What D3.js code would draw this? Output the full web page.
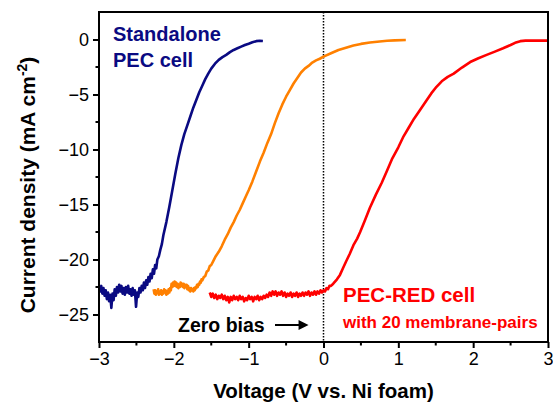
<!DOCTYPE html>
<html>
<head>
<meta charset="utf-8">
<script src="https://cdn.jsdelivr.net/npm/d3@7"></script>
<style>
  body { margin: 0; background: #fff; }
  svg { display: block; font-family: "Liberation Sans", Arial, sans-serif; }
</style>
</head>
<body>
<svg width="553" height="403"></svg>
<script>
// axis ticks
var xTicks = [-3, -2, -1, 0, 1, 2, 3];
var yTicks = [0, -5, -10, -15, -20, -25];
var xMinor = [-2.5, -1.5, -0.5, 0.5, 1.5, 2.5];
var yMinor = [-2.5, -7.5, -12.5, -17.5, -22.5];

// standalone PEC cell (navy), [V, mA cm-2]
var standalone = [
  [-3.00,-22.5],[-2.985,-22.9],[-2.97,-22.4],[-2.955,-23.1],[-2.94,-22.6],[-2.925,-23.3],[-2.91,-22.8],
  [-2.895,-23.6],[-2.88,-23.0],[-2.865,-23.8],[-2.85,-23.2],[-2.835,-24.4],[-2.82,-23.1],[-2.805,-23.7],
  [-2.79,-22.7],[-2.775,-23.3],[-2.76,-22.5],[-2.745,-23.0],[-2.73,-22.3],[-2.715,-22.9],[-2.70,-22.4],
  [-2.685,-23.1],[-2.67,-22.6],[-2.655,-23.2],[-2.64,-22.5],[-2.625,-23.0],[-2.61,-22.4],[-2.595,-23.1],
  [-2.58,-22.7],[-2.565,-23.3],[-2.55,-22.6],[-2.535,-23.2],[-2.52,-22.8],[-2.505,-24.3],[-2.49,-23.0],
  [-2.475,-23.4],[-2.46,-22.6],[-2.445,-23.0],[-2.43,-22.4],[-2.415,-22.8],[-2.40,-22.1],[-2.385,-22.6],
  [-2.37,-21.9],[-2.355,-22.3],[-2.34,-21.6],[-2.325,-22.0],[-2.31,-21.3],[-2.295,-21.7],[-2.28,-20.9],
  [-2.265,-21.3],[-2.25,-20.5],[-2.235,-20.8],[-2.22,-20.0],[-2.20,-19.7],[-2.18,-19.1],[-2.16,-18.6],
  [-2.14,-17.8],[-2.10,-16.6],[-2.06,-15.2],[-2.02,-13.7],[-1.98,-12.2],[-1.94,-10.8],[-1.90,-9.6],
  [-1.86,-8.6],[-1.82,-7.8],[-1.78,-7.0],[-1.74,-6.2],[-1.70,-5.5],[-1.66,-4.8],[-1.62,-4.2],
  [-1.58,-3.6],[-1.54,-3.1],[-1.50,-2.65],[-1.45,-2.2],[-1.40,-1.85],[-1.35,-1.6],[-1.30,-1.4],
  [-1.25,-1.15],[-1.20,-0.95],[-1.15,-0.8],[-1.10,-0.65],[-1.05,-0.5],[-1.00,-0.38],[-0.95,-0.25],
  [-0.90,-0.15],[-0.85,-0.12],[-0.81,-0.14]
];

// intermediate cell (orange)
var middle = [
  [-2.27,-22.7],[-2.26,-23.1],[-2.25,-22.8],[-2.24,-23.2],[-2.23,-22.9],[-2.22,-23.0],[-2.21,-22.7],
  [-2.20,-23.2],[-2.19,-22.9],[-2.18,-23.1],[-2.17,-22.8],[-2.16,-23.2],[-2.15,-22.9],[-2.14,-23.1],
  [-2.13,-22.7],[-2.12,-23.0],[-2.11,-22.8],[-2.10,-23.2],[-2.09,-22.9],[-2.08,-23.1],[-2.07,-22.7],
  [-2.06,-23.0],[-2.05,-22.6],[-2.04,-22.8],[-2.03,-22.2],[-2.02,-22.5],[-2.01,-22.1],[-2.00,-22.4],
  [-1.99,-22.0],[-1.98,-22.4],[-1.97,-22.1],[-1.96,-22.5],[-1.95,-22.2],[-1.94,-22.6],[-1.93,-22.3],
  [-1.92,-22.5],[-1.91,-22.1],[-1.90,-22.4],[-1.89,-22.2],[-1.88,-22.5],[-1.87,-22.2],[-1.86,-22.6],
  [-1.85,-22.3],[-1.84,-22.5],[-1.83,-22.3],[-1.82,-22.7],[-1.81,-22.4],[-1.80,-22.8],[-1.79,-22.6],
  [-1.78,-22.9],[-1.77,-22.6],[-1.76,-22.8],[-1.75,-22.7],[-1.74,-22.9],[-1.73,-22.6],[-1.72,-22.8],
  [-1.71,-22.5],[-1.70,-22.6],[-1.69,-22.3],[-1.68,-22.5],[-1.67,-22.2],[-1.66,-22.3],[-1.65,-22.0],
  [-1.64,-22.1],[-1.63,-21.8],[-1.62,-21.9],[-1.60,-21.6],[-1.58,-21.5],[-1.56,-21.1],[-1.54,-21.0],
  [-1.52,-20.6],[-1.50,-20.5],[-1.47,-20.1],[-1.44,-19.7],[-1.40,-19.3],[-1.36,-18.8],[-1.32,-18.2],
  [-1.28,-17.7],[-1.24,-17.1],[-1.20,-16.6],[-1.16,-16.0],[-1.12,-15.5],[-1.08,-14.9],[-1.04,-14.3],
  [-1.00,-13.7],[-0.95,-12.9],[-0.90,-12.0],[-0.85,-11.1],[-0.80,-10.3],[-0.75,-9.4],[-0.70,-8.6],
  [-0.65,-7.6],[-0.60,-6.7],[-0.55,-5.9],[-0.50,-5.2],[-0.45,-4.6],[-0.40,-4.0],[-0.35,-3.5],
  [-0.30,-3.0],[-0.25,-2.65],[-0.20,-2.4],[-0.15,-2.1],[-0.10,-1.9],[-0.05,-1.75],[0.00,-1.56],
  [0.10,-1.25],[0.20,-0.95],[0.30,-0.75],[0.40,-0.55],[0.50,-0.4],[0.62,-0.28],[0.75,-0.18],
  [0.85,-0.12],[0.95,-0.08],[1.10,-0.05]
];

// PEC-RED cell with 20 membrane-pairs (red)
var pecRed = [
  [-1.52,-23.0],[-1.50,-23.4],[-1.48,-23.1],[-1.46,-23.5],[-1.44,-23.2],[-1.42,-23.6],[-1.40,-23.3],
  [-1.38,-23.5],[-1.36,-23.2],[-1.34,-23.6],[-1.32,-23.3],[-1.30,-23.7],[-1.28,-23.4],[-1.26,-23.9],
  [-1.24,-23.4],[-1.22,-23.7],[-1.20,-23.3],[-1.18,-23.6],[-1.16,-23.4],[-1.14,-23.7],[-1.12,-23.3],
  [-1.10,-23.6],[-1.08,-23.4],[-1.06,-23.8],[-1.04,-23.5],[-1.02,-23.7],[-1.00,-23.3],[-0.98,-23.6],
  [-0.96,-23.4],[-0.94,-23.8],[-0.92,-23.4],[-0.90,-23.6],[-0.88,-23.3],[-0.86,-23.7],[-0.84,-23.4],
  [-0.82,-23.6],[-0.80,-23.3],[-0.78,-23.5],[-0.76,-23.2],[-0.74,-23.4],[-0.72,-23.0],[-0.70,-23.3],
  [-0.68,-22.9],[-0.66,-23.2],[-0.64,-22.9],[-0.62,-23.3],[-0.60,-23.0],[-0.58,-23.2],[-0.56,-22.9],
  [-0.54,-23.3],[-0.52,-23.0],[-0.50,-23.4],[-0.48,-23.1],[-0.46,-23.3],[-0.44,-23.0],[-0.42,-23.4],
  [-0.40,-23.1],[-0.38,-23.3],[-0.36,-23.0],[-0.34,-23.4],[-0.32,-23.1],[-0.30,-23.3],[-0.28,-23.0],
  [-0.26,-23.3],[-0.24,-23.0],[-0.22,-23.2],[-0.20,-22.9],[-0.18,-23.3],[-0.16,-23.0],[-0.14,-23.2],
  [-0.12,-22.9],[-0.10,-23.2],[-0.08,-22.9],[-0.06,-23.1],[-0.04,-22.8],[-0.02,-23.0],[0.00,-22.8],
  [0.02,-22.9],[0.04,-22.6],[0.06,-22.7],[0.08,-22.4],[0.10,-22.4],[0.13,-22.2],[0.18,-21.8],
  [0.22,-21.4],[0.26,-20.8],[0.30,-20.2],[0.35,-19.5],[0.40,-18.7],[0.45,-18.1],[0.49,-17.5],
  [0.55,-16.5],[0.62,-15.3],[0.70,-14.1],[0.78,-13.0],[0.85,-11.9],[0.92,-10.8],[1.00,-9.8],
  [1.07,-8.8],[1.14,-8.0],[1.21,-7.2],[1.29,-6.4],[1.36,-5.7],[1.44,-4.9],[1.51,-4.3],
  [1.58,-3.8],[1.66,-3.4],[1.74,-3.1],[1.85,-2.55],[1.96,-2.05],[2.07,-1.7],[2.18,-1.4],
  [2.29,-1.1],[2.40,-0.8],[2.50,-0.5],[2.56,-0.3],[2.63,-0.15],[2.70,-0.1],[2.80,-0.1],
  [2.90,-0.1],[3.00,-0.1]
];

var margin = { top: 12, right: 5, bottom: 61, left: 99 },
    width = 553 - margin.left - margin.right,
    height = 403 - margin.top - margin.bottom;

var svg = d3.select("svg");
var g = svg.append("g")
    .attr("transform", "translate(" + margin.left + "," + margin.top + ")");

var x = d3.scaleLinear().domain([-3, 3]).range([0, width]);
var y = d3.scaleLinear().domain([-27.5, 2.5]).range([height, 0]);

// zero bias dotted line
g.append("line")
    .attr("x1", x(0)).attr("x2", x(0))
    .attr("y1", 0).attr("y2", height)
    .attr("stroke", "#000")
    .attr("stroke-width", 1.5)
    .attr("stroke-dasharray", "1.5,1.5");

// curves
var line = d3.line()
    .x(function (d) { return x(d[0]); })
    .y(function (d) { return y(d[1]); });

[[standalone, "#0a0a82"], [middle, "#ff8000"], [pecRed, "#ff0000"]].forEach(function (s) {
    g.append("path")
        .datum(s[0])
        .attr("fill", "none")
        .attr("stroke", s[1])
        .attr("stroke-width", 2.6)
        .attr("stroke-linejoin", "round")
        .attr("d", line);
});

// axes
var xAxis = g.append("g")
    .attr("transform", "translate(0," + height + ")")
    .call(d3.axisBottom(x).tickValues(xTicks).tickSize(6).tickSizeOuter(0).tickPadding(4)
        .tickFormat(d3.format("d")));
var yAxis = g.append("g")
    .call(d3.axisLeft(y).tickValues(yTicks).tickSize(6).tickSizeOuter(0).tickPadding(4)
        .tickFormat(d3.format("d")));

[xAxis, yAxis].forEach(function (a) {
    a.select(".domain").remove();
    a.selectAll("line").attr("stroke-width", 2);
    a.selectAll("text").attr("font-size", 18).attr("fill", "#000")
        .attr("font-family", "'Liberation Sans', Arial, sans-serif");
});

// minor ticks
g.selectAll(".xminor").data(xMinor).enter().append("line")
    .attr("x1", function (d) { return x(d); }).attr("x2", function (d) { return x(d); })
    .attr("y1", height).attr("y2", height + 3.5)
    .attr("stroke", "#000").attr("stroke-width", 2);
g.selectAll(".yminor").data(yMinor).enter().append("line")
    .attr("y1", function (d) { return y(d); }).attr("y2", function (d) { return y(d); })
    .attr("x1", 0).attr("x2", -3.5)
    .attr("stroke", "#000").attr("stroke-width", 2);

// frame
g.append("rect")
    .attr("width", width).attr("height", height)
    .attr("fill", "none").attr("stroke", "#000").attr("stroke-width", 2);

// axis titles
svg.append("text")
    .attr("x", margin.left + width / 2).attr("y", 398)
    .attr("text-anchor", "middle")
    .attr("font-size", 20.5).attr("font-weight", "bold")
    .text("Voltage (V vs. Ni foam)");

var yt = svg.append("text")
    .attr("transform", "translate(35," + (margin.top + 173) + ") rotate(-90)")
    .attr("text-anchor", "middle")
    .attr("font-size", 21).attr("font-weight", "bold");
yt.append("tspan").text("Current density (mA cm");
yt.append("tspan").attr("font-size", 14).attr("dy", -8).text("-2");
yt.append("tspan").attr("dy", 8).text(")");

// annotations
var ann = svg.append("g").attr("font-weight", "bold");
ann.append("text").attr("x", 113).attr("y", 41).attr("font-size", 20)
    .attr("fill", "#0a0a82").text("Standalone");
ann.append("text").attr("x", 113).attr("y", 67).attr("font-size", 20)
    .attr("fill", "#0a0a82").text("PEC cell");
ann.append("text").attr("x", 178).attr("y", 332).attr("font-size", 19.5)
    .attr("fill", "#000").text("Zero bias");
ann.append("text").attr("x", 343).attr("y", 302).attr("font-size", 20.5)
    .attr("fill", "#ff0000").text("PEC-RED cell");
ann.append("text").attr("x", 343).attr("y", 328).attr("font-size", 17)
    .attr("fill", "#ff0000").text("with 20 membrane-pairs");

// arrow pointing at zero bias
var ay = 325, ax0 = 275, ax1 = margin.left + x(-0.2);
svg.append("line")
    .attr("x1", ax0).attr("x2", ax1 - 8).attr("y1", ay).attr("y2", ay)
    .attr("stroke", "#000").attr("stroke-width", 2);
svg.append("path")
    .attr("d", "M" + ax1 + "," + ay + "L" + (ax1 - 10) + "," + (ay - 5) + "L" + (ax1 - 10) + "," + (ay + 5) + "Z")
    .attr("fill", "#000");
</script>
</body>
</html>
